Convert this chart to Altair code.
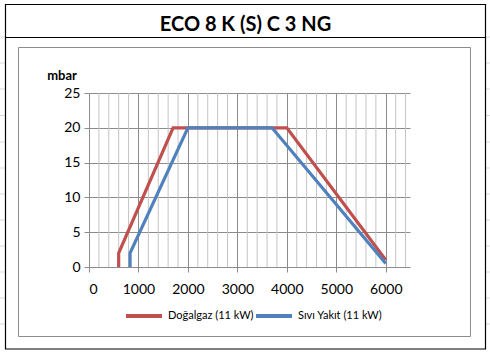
import altair as alt
import pandas as pd

# ---------------- data ----------------
title_text = "ECO 8 K (S) C 3 NG"
y_unit = "mbar"
series_names = ["Doğalgaz (11 kW)", "Sıvı Yakıt (11 kW)"]
series_colors = ["#C0504D", "#4F81BD"]

gas_x = [600, 600, 1700, 4000, 6000]
gas_y = [0, 2, 20, 20, 1]
oil_x = [830, 830, 2000, 3700, 6000]
oil_y = [0, 2, 20, 20, 0.5]

x_ticks = [0, 1000, 2000, 3000, 4000, 5000, 6000]
y_ticks = [0, 5, 10, 15, 20, 25]
x_minor = [200, 400, 600, 800, 1200, 1400, 1600, 1800, 2200, 2400, 2600, 2800,
           3200, 3400, 3600, 3800, 4200, 4400, 4600, 4800, 5200, 5400, 5600, 5800,
           6200, 6400]
cell_rows = [37, 63, 89, 115.5, 142, 168, 194, 220, 246, 272, 298, 324]

# ---------------- layout (pixels) ----------------
W, H = 321, 174
PL, PT = 89, 93
X_MAX = 6490
FONT = "Lato"

rows = []
for name, xs, ys in [(series_names[0], gas_x, gas_y), (series_names[1], oil_x, oil_y)]:
    for i, (a, b) in enumerate(zip(xs, ys)):
        rows.append({"series": name, "x": a, "y": b, "i": i})
df = pd.DataFrame(rows)

xscale = alt.Scale(domain=[0, X_MAX], nice=False, zero=False)
yscale = alt.Scale(domain=[0, 25], nice=False)

x_axis = alt.Axis(values=x_ticks, grid=True, gridColor="#8c8c8c", gridWidth=1,
                  domain=False, tickSize=5, tickColor="#8c8c8c",
                  labelFont=FONT, labelFontSize=14, labelColor="black",
                  labelPadding=10, format="d")
y_axis = alt.Axis(values=y_ticks, grid=True, gridColor="#8c8c8c", gridWidth=1,
                  domain=False, tickSize=5, tickColor="#8c8c8c",
                  labelFont=FONT, labelFontSize=14, labelColor="black",
                  labelPadding=4, format="d")

one = pd.DataFrame({"a": [0]})

# spreadsheet cell lines in the gutters
cells = pd.DataFrame({"yy": [r - PT for r in cell_rows]})
cell_left = alt.Chart(cells).mark_rule(color="#d9d9d9", strokeWidth=1).encode(
    x=alt.value(-PL), x2=alt.value(5 - PL), y=alt.Y("yy:Q", scale=None))
cell_right = alt.Chart(cells).mark_rule(color="#d9d9d9", strokeWidth=1).encode(
    x=alt.value(486 - PL), x2=alt.value(490 - PL), y=alt.Y("yy:Q", scale=None))

outer = alt.Chart(one).mark_rect(fillOpacity=0, stroke="black", strokeWidth=1.2).encode(
    x=alt.value(5.5 - PL), x2=alt.value(485.5 - PL),
    y=alt.value(4.5 - PT), y2=alt.value(349 - PT))
title_sep = alt.Chart(one).mark_rule(color="black", strokeWidth=1.2).encode(
    x=alt.value(5.5 - PL), x2=alt.value(485.5 - PL), y=alt.value(37.5 - PT))
inner = alt.Chart(one).mark_rect(fillOpacity=0, stroke="#8c8c8c", strokeWidth=1).encode(
    x=alt.value(18.5 - PL), x2=alt.value(470.5 - PL),
    y=alt.value(47.5 - PT), y2=alt.value(336.5 - PT))

title = alt.Chart(pd.DataFrame({"t": [title_text]})).mark_text(
    font=FONT, fontSize=20, fontWeight="bold", color="black",
    align="center", baseline="alphabetic").encode(
    x=alt.value(245.5 - PL), y=alt.value(30.5 - PT), text="t:N")

unit = alt.Chart(pd.DataFrame({"t": [y_unit]})).mark_text(
    font=FONT, fontSize=13, fontWeight="bold", color="black",
    align="center", baseline="alphabetic").encode(
    x=alt.value(62 - PL), y=alt.value(80 - PT), text="t:N")

minor = alt.Chart(pd.DataFrame({"x": x_minor})).mark_rule(
    color="#c4c4c4", strokeWidth=1).encode(
    x=alt.X("x:Q", scale=xscale, axis=x_axis, title=None),
    y=alt.value(0), y2=alt.value(H))

lines = alt.Chart(df).mark_line(strokeWidth=3.2, strokeJoin="miter").encode(
    x=alt.X("x:Q", scale=xscale, title=None, axis=x_axis),
    y=alt.Y("y:Q", scale=yscale, title=None, axis=y_axis),
    color=alt.Color("series:N", sort=series_names,
                    scale=alt.Scale(domain=series_names, range=series_colors),
                    legend=alt.Legend(orient="none", legendX=35, legendY=203,
                                      direction="horizontal", title=None,
                                      symbolType="stroke", symbolSize=1296,
                                      symbolStrokeWidth=4, labelFont=FONT,
                                      labelFontSize=11, labelColor="black",
                                      labelOffset=4, columnPadding=-8, padding=0)),
    order=alt.Order("i:Q"),
)

chart = alt.layer(
    cell_left, cell_right, outer, title_sep, inner, title, unit, minor, lines
).properties(
    width=W, height=H,
    autosize=alt.AutoSizeParams(type="none"),
    padding={"left": PL, "top": PT, "right": 490 - PL - W, "bottom": 353 - PT - H},
    background="white",
).configure_view(stroke=None)

chart.save("out.html", embed_options={"renderer": "svg", "actions": False})
